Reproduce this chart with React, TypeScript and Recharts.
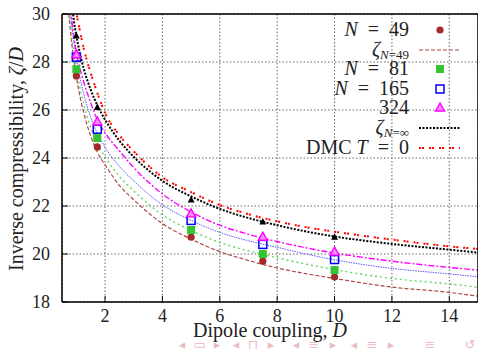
import React from 'react';
import { ComposedChart, Line, Scatter, XAxis, YAxis, CartesianGrid } from 'recharts';

// simulation points (dipole coupling D) per system size
const dipole = [1, 1.73, 5, 7.5, 10];
const n49 = [27.42, 24.46, 20.7, 19.7, 19.04];
const n81 = [27.7, 24.83, 21.0, 20.0, 19.33];
const n165 = [28.2, 25.2, 21.4, 20.4, 19.77];
const n324 = [28.3, 25.5, 21.67, 20.7, 20.08];
const nInf = [29.08, 26.1, 22.25, 21.33, 20.7];

// fitted curves
const fitX49 = [0.65, 0.7, 0.75, 0.8, 0.9, 1, 1.1, 1.25, 1.5, 1.75, 2, 2.5, 3, 4, 5, 6, 7, 8, 9, 10, 12, 14, 15];
const fit49 = [31.0, 30.4, 29.8, 29.2, 28.2, 27.38, 26.72, 25.92, 24.92, 24.2, 23.72, 22.86, 22.26, 21.27, 20.62, 20.1, 19.73, 19.42, 19.18, 18.98, 18.62, 18.4, 18.24];

const fitX81 = [0.7, 0.75, 0.8, 0.9, 1, 1.1, 1.25, 1.5, 1.75, 2, 2.5, 3, 4, 5, 6, 7, 8, 9, 10, 12, 14, 15];
const fit81 = [30.9, 30.1, 29.5, 28.5, 27.72, 27.08, 26.28, 25.28, 24.56, 24.05, 23.23, 22.63, 21.63, 20.98, 20.48, 20.13, 19.84, 19.58, 19.35, 18.98, 18.75, 18.62];

const fitX165 = [0.7, 0.75, 0.8, 0.9, 1, 1.1, 1.25, 1.5, 1.75, 2, 2.5, 3, 4, 5, 6, 7, 8, 9, 10, 12, 14, 15];
const fit165 = [31.4, 30.6, 29.95, 28.95, 28.15, 27.5, 26.7, 25.7, 24.98, 24.45, 23.65, 23.05, 22.05, 21.4, 20.9, 20.55, 20.28, 20.0, 19.76, 19.4, 19.17, 19.05];

const fitX324 = [0.7, 0.75, 0.8, 0.9, 1, 1.1, 1.25, 1.5, 1.75, 2, 2.5, 3, 4, 5, 6, 7, 8, 9, 10, 12, 14, 15];
const fit324 = [31.7, 30.9, 30.2, 29.2, 28.4, 27.85, 27.2, 26.3, 25.55, 25.05, 24.3, 23.6, 22.5, 21.75, 21.2, 20.82, 20.52, 20.26, 20.04, 19.7, 19.44, 19.33];

const fitXInf = [0.8, 0.85, 0.9, 1, 1.1, 1.25, 1.5, 1.75, 2, 2.5, 3, 4, 5, 6, 7, 8, 9, 10, 12, 14, 15];
const fitInf = [31.0, 30.4, 29.85, 29.1, 28.5, 27.75, 26.85, 26.15, 25.6, 24.72, 24.05, 23.05, 22.4, 21.88, 21.5, 21.2, 20.94, 20.73, 20.42, 20.18, 20.06];

const dmcX = [0.9, 0.95, 1, 1.1, 1.25, 1.5, 1.75, 2, 2.5, 3, 4, 5, 6, 7, 8, 9, 10, 12, 14, 15];
const dmc = [31.6, 30.8, 30.15, 29.45, 28.6, 27.55, 26.65, 25.88, 24.95, 24.28, 23.2, 22.58, 22.04, 21.66, 21.36, 21.12, 20.93, 20.6, 20.32, 20.21];

const xTicks = [2, 4, 6, 8, 10, 12, 14];
const yTicks = [18, 20, 22, 24, 26, 28, 30];

const pts = (xs: number[], ys: number[]) => xs.map((x, i) => ({ x, y: ys[i] }));

const serif = "'Liberation Serif', 'DejaVu Serif', serif";
const textStyle = { fontFamily: serif };

const brown = '#a32a2a';
const green = '#33c433';
const blue = '#0000ff';
const magenta = '#ff00ff';
const red = '#ff0000';

const circleShape = (p: any) => <circle cx={p.cx} cy={p.cy} r={3.6} fill={brown} />;
const squareShape = (p: any) => <rect x={p.cx - 4} y={p.cy - 4} width={8} height={8} fill={green} />;
const openSquare = (p: any) => (
  <rect x={p.cx - 4} y={p.cy - 4} width={8} height={8} fill="none" stroke={blue} strokeWidth={1.5} />
);
const triShape = (p: any) => (
  <polygon
    points={`${p.cx},${p.cy - 5} ${p.cx - 4.5},${p.cy + 3} ${p.cx + 4.5},${p.cy + 3}`}
    fill="#ff8cff"
    stroke={magenta}
    strokeWidth={1.4}
  />
);
const smallTri = (p: any) => (
  <polygon points={`${p.cx},${p.cy - 4} ${p.cx - 3.5},${p.cy + 2.5} ${p.cx + 3.5},${p.cy + 2.5}`} fill="#000" />
);

const XTick = (p: any) => (
  <text className="serif-tick" x={p.x} y={p.y} dy={12} textAnchor="middle" fontSize={18} fill="#222" style={textStyle}>
    {p.payload.value}
  </text>
);
const YTick = (p: any) => (
  <text className="serif-tick" x={p.x} y={p.y} dy={6} textAnchor="end" fontSize={18} fill="#222" style={textStyle}>
    {p.payload.value}
  </text>
);

const legendRows = [
  { y: 30, kind: 'circle' },
  { y: 50, kind: 'fit49' },
  { y: 69, kind: 'square' },
  { y: 89, kind: 'open' },
  { y: 108, kind: 'tri' },
  { y: 128, kind: 'inf' },
  { y: 148, kind: 'dmc' },
];

const navGlyphs = [
  { x: 182, g: '◂' }, { x: 200, g: '▭' }, { x: 217, g: '▸' },
  { x: 236, g: '◂' }, { x: 253, g: '⊓' }, { x: 271, g: '▸' },
  { x: 296, g: '◂' }, { x: 314, g: '≡' }, { x: 333, g: '▸' },
  { x: 354, g: '◂' }, { x: 372, g: '≡' }, { x: 391, g: '▸' },
  { x: 430, g: '≡' }, { x: 470, g: '↺' },
];

const eq = '\u2002=\u2002';

function legendLabel(kind: string) {
  const sub = { fontSize: 13 };
  switch (kind) {
    case 'circle':
      return (<><tspan fontStyle="italic">N</tspan>{eq + '49'}</>);
    case 'fit49':
      return (<><tspan fontStyle="italic">ζ</tspan><tspan {...sub} dy={3} fontStyle="italic">N</tspan><tspan {...sub}>=49</tspan></>);
    case 'square':
      return (<><tspan fontStyle="italic">N</tspan>{eq + '81'}</>);
    case 'open':
      return (<><tspan fontStyle="italic">N</tspan>{eq + '165'}</>);
    case 'tri':
      return <>324</>;
    case 'inf':
      return (<><tspan fontStyle="italic">ζ</tspan><tspan {...sub} dy={3} fontStyle="italic">N</tspan><tspan {...sub}>=∞</tspan></>);
    default:
      return (<>DMC <tspan fontStyle="italic">T</tspan>{eq + '0'}</>);
  }
}

function legendSample(kind: string, y: number) {
  const cx = 440;
  switch (kind) {
    case 'circle':
      return circleShape({ cx, cy: y });
    case 'square':
      return squareShape({ cx, cy: y });
    case 'open':
      return openSquare({ cx, cy: y });
    case 'tri':
      return triShape({ cx, cy: y });
    case 'fit49':
      return <line x1={419} x2={460} y1={y} y2={y} stroke="#b04848" strokeWidth={1.2} strokeDasharray="4 2" />;
    case 'inf':
      return <line x1={419} x2={460} y1={y} y2={y} stroke="#000" strokeWidth={2} strokeDasharray="2 1.5" />;
    default:
      return <line x1={419} x2={460} y1={y} y2={y} stroke={red} strokeWidth={2} strokeDasharray="2 1 2 5" />;
  }
}

export default function App() {
  return (
    <div style={{ position: 'absolute', left: 0, top: 0, width: 478, height: 351, overflow: 'hidden', background: '#fff', fontFamily: serif }}>
      <style>{`.serif-tick, .recharts-cartesian-axis-tick text { font-family: 'Liberation Serif', 'DejaVu Serif', serif !important; }`}</style>
      <ComposedChart width={479} height={351} margin={{ top: 13, right: 0, bottom: 0, left: 0 }}>
        <CartesianGrid stroke="#666" strokeDasharray="1.5 2" />
        <XAxis
          dataKey="x"
          type="number"
          domain={[0.5, 15]}
          allowDataOverflow
          ticks={xTicks}
          interval={0}
          height={49}
          tickSize={-6}
          tickMargin={14}
          axisLine={{ stroke: '#000', strokeWidth: 1.5 }}
          tickLine={{ stroke: '#000' }}
          tick={<XTick />}
        />
        <XAxis
          xAxisId="top"
          orientation="top"
          dataKey="x"
          type="number"
          domain={[0.5, 15]}
          allowDataOverflow
          ticks={xTicks}
          interval={0}
          height={1}
          tickSize={-6}
          tick={false}
          axisLine={{ stroke: '#000', strokeWidth: 1.5 }}
          tickLine={{ stroke: '#000' }}
        />
        <YAxis
          type="number"
          domain={[18, 30]}
          allowDataOverflow
          ticks={yTicks}
          interval={0}
          width={62}
          tickSize={-6}
          tickMargin={18}
          axisLine={{ stroke: '#000', strokeWidth: 1.5 }}
          tickLine={{ stroke: '#000' }}
          tick={<YTick />}
        />
        <YAxis
          yAxisId="right"
          orientation="right"
          type="number"
          domain={[18, 30]}
          allowDataOverflow
          ticks={yTicks}
          interval={0}
          width={1}
          tickSize={-6}
          tick={false}
          axisLine={{ stroke: '#000', strokeWidth: 1.5 }}
          tickLine={{ stroke: '#000' }}
        />
        <Line data={pts(fitX49, fit49)} dataKey="y" type="monotone" stroke="#b04848" strokeWidth={1.2} strokeDasharray="4 2" dot={false} activeDot={false} isAnimationActive={false} />
        <Line data={pts(fitX81, fit81)} dataKey="y" type="monotone" stroke="#5fd85f" strokeWidth={1.4} strokeDasharray="2 3" dot={false} activeDot={false} isAnimationActive={false} />
        <Line data={pts(fitX165, fit165)} dataKey="y" type="monotone" stroke="#5a5aff" strokeWidth={1} strokeDasharray="1.5 1" dot={false} activeDot={false} isAnimationActive={false} />
        <Line data={pts(fitX324, fit324)} dataKey="y" type="monotone" stroke={magenta} strokeWidth={1.4} strokeDasharray="6 2 2 2" dot={false} activeDot={false} isAnimationActive={false} />
        <Line data={pts(fitXInf, fitInf)} dataKey="y" type="monotone" stroke="#000" strokeWidth={2} strokeDasharray="2 1.5" dot={false} activeDot={false} isAnimationActive={false} />
        <Line data={pts(dmcX, dmc)} dataKey="y" type="monotone" stroke={red} strokeWidth={2} strokeDasharray="2 1 2 5" dot={false} activeDot={false} isAnimationActive={false} />
        <Scatter data={pts(dipole, nInf)} dataKey="y" shape={smallTri} isAnimationActive={false} />
        <Scatter data={pts(dipole, n49)} dataKey="y" shape={circleShape} isAnimationActive={false} />
        <Scatter data={pts(dipole, n81)} dataKey="y" shape={squareShape} isAnimationActive={false} />
        <Scatter data={pts(dipole, n165)} dataKey="y" shape={openSquare} isAnimationActive={false} />
        <Scatter data={pts(dipole, n324)} dataKey="y" shape={triShape} isAnimationActive={false} />
      </ComposedChart>
      <svg width={478} height={351} style={{ position: 'absolute', left: 0, top: 0, pointerEvents: 'none', fontFamily: serif }}>
        <text transform="translate(23, 159) rotate(-90)" textAnchor="middle" fontSize={20} fill="#222" style={textStyle}>
          Inverse compressibility, <tspan fontStyle="italic">ζ</tspan>/<tspan fontStyle="italic">D</tspan>
        </text>
        <text x={270} y={337} textAnchor="middle" fontSize={20} fill="#222" style={textStyle}>
          Dipole coupling, <tspan fontStyle="italic">D</tspan>
        </text>
        {legendRows.map((r) => (
          <g key={r.kind}>
            <text x={409} y={r.y + 6} textAnchor="end" fontSize={20} fill="#222" style={textStyle}>
              {legendLabel(r.kind)}
            </text>
            {legendSample(r.kind, r.y)}
          </g>
        ))}
        {navGlyphs.map((n, i) => (
          <text key={i} x={n.x} y={349} textAnchor="middle" fontSize={13} fill="#ecbcbc" style={{ fontFamily: "'DejaVu Sans', sans-serif" }}>
            {n.g}
          </text>
        ))}
      </svg>
    </div>
  );
}
